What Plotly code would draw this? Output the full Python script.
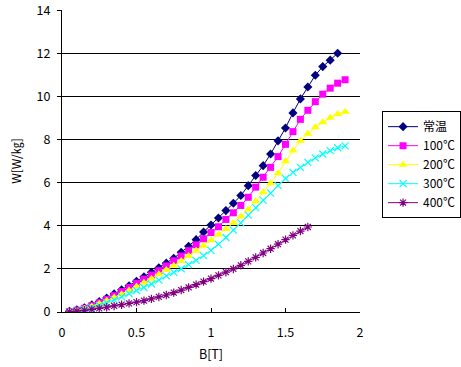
import plotly.graph_objects as go

B_room = [round(0.05 * i, 2) for i in range(1, 38)]
W_room = [0.03, 0.1, 0.2, 0.33, 0.48, 0.65, 0.84, 1.03, 1.22, 1.43, 1.64, 1.85, 2.05, 2.27, 2.5,
          2.77, 3.05, 3.36, 3.72, 4.04, 4.37, 4.71, 5.05, 5.41, 5.87, 6.34, 6.8, 7.34, 7.95, 8.55,
          9.25, 9.9, 10.45, 11.0, 11.4, 11.7, 12.02]

B_100 = [round(0.05 * i, 2) for i in range(1, 39)]
W_100 = [0.02, 0.08, 0.17, 0.29, 0.43, 0.59, 0.76, 0.95, 1.14, 1.34, 1.53, 1.72, 1.92, 2.14, 2.38,
         2.6, 2.85, 3.12, 3.4, 3.69, 3.96, 4.3, 4.61, 4.95, 5.33, 5.8, 6.26, 6.72, 7.22, 7.79,
         8.38, 8.95, 9.37, 9.77, 10.12, 10.4, 10.63, 10.79]

B_200 = [round(0.05 * i, 2) for i in range(1, 39)]
W_200 = [0.02, 0.07, 0.15, 0.26, 0.38, 0.52, 0.67, 0.83, 1.0, 1.18, 1.36, 1.55, 1.75, 1.95, 2.15,
         2.37, 2.6, 2.84, 3.08, 3.33, 3.6, 3.86, 4.13, 4.44, 4.76, 5.15, 5.56, 5.98, 6.45, 7.0,
         7.5, 7.95, 8.28, 8.58, 8.82, 9.02, 9.2, 9.3]

B_300 = [round(0.05 * i, 2) for i in range(1, 39)]
W_300 = [0.01, 0.05, 0.12, 0.2, 0.31, 0.43, 0.56, 0.7, 0.85, 1.0, 1.14, 1.3, 1.48, 1.68, 1.84,
         2.0, 2.2, 2.4, 2.62, 2.86, 3.14, 3.46, 3.8, 4.14, 4.5, 4.85, 5.2, 5.52, 5.88, 6.2,
         6.49, 6.72, 6.95, 7.16, 7.34, 7.5, 7.63, 7.72]

B_400 = [round(0.05 * i, 2) for i in range(1, 34)]
W_400 = [0.01, 0.04, 0.08, 0.12, 0.17, 0.22, 0.28, 0.34, 0.4, 0.46, 0.53, 0.61, 0.7, 0.79, 0.9,
         1.02, 1.14, 1.27, 1.41, 1.55, 1.7, 1.85, 2.0, 2.17, 2.35, 2.54, 2.74, 2.94, 3.15, 3.36,
         3.56, 3.76, 3.95]

x_ticks = [0, 0.5, 1, 1.5, 2]
x_tick_labels = ["0", "0.5", "1", "1.5", "2"]
y_ticks = [0, 2, 4, 6, 8, 10, 12, 14]

series_names = ["常温", "100℃", "200℃", "300℃", "400℃"]
colors = ["#000080", "#FF00FF", "#FFFF00", "#00FFFF", "#800080"]

FONT = "Noto Sans CJK JP, Noto Sans, sans-serif"

fig = go.Figure()
fig.add_trace(go.Scatter(x=B_room, y=W_room, name=series_names[0], mode="lines+markers",
                         line=dict(color=colors[0], width=1),
                         marker=dict(symbol="diamond", size=7, color=colors[0])))
fig.add_trace(go.Scatter(x=B_100, y=W_100, name=series_names[1], mode="lines+markers",
                         line=dict(color=colors[1], width=1),
                         marker=dict(symbol="square", size=7, color=colors[1])))
fig.add_trace(go.Scatter(x=B_200, y=W_200, name=series_names[2], mode="lines+markers",
                         line=dict(color=colors[2], width=1),
                         marker=dict(symbol="triangle-up", size=8, color=colors[2])))
fig.add_trace(go.Scatter(x=B_300, y=W_300, name=series_names[3], mode="lines+markers",
                         line=dict(color=colors[3], width=1),
                         marker=dict(symbol="x-thin", size=7, color=colors[3],
                                     line=dict(color=colors[3], width=1.2))))
fig.add_trace(go.Scatter(x=B_400, y=W_400, name=series_names[4], mode="lines+markers",
                         line=dict(color=colors[4], width=1),
                         marker=dict(symbol="asterisk", size=7, color=colors[4],
                                     line=dict(color=colors[4], width=1.2))))

fig.update_layout(
    width=461, height=367,
    margin=dict(l=62, r=101, t=10, b=55, autoexpand=False),
    paper_bgcolor="white", plot_bgcolor="white",
    font=dict(family=FONT, size=12, color="black"),
    showlegend=True,
    legend=dict(x=1.074, y=0.665, xanchor="left", yanchor="top",
                bordercolor="black", borderwidth=1, bgcolor="white",
                font=dict(family=FONT, size=12, color="black"),
                tracegroupgap=0, itemwidth=30),
    xaxis=dict(range=[0, 2], tickvals=x_ticks, ticktext=x_tick_labels, automargin=False,
               showgrid=False, zeroline=False, showline=True, linecolor="black", linewidth=1,
               ticks="inside", ticklen=4, tickcolor="black", ticklabelstandoff=9,
               tickfont=dict(size=12.5),
               title=dict(text="B[T]", font=dict(family=FONT, size=12.5), standoff=10)),
    yaxis=dict(range=[0, 14.03], tickvals=y_ticks, automargin=False,
               showgrid=True, gridcolor="black", gridwidth=1, zeroline=False,
               showline=True, linecolor="black", linewidth=1,
               ticks="outside", ticklen=4, tickcolor="black", ticklabelstandoff=4,
               tickfont=dict(size=12.5),
               title=dict(text="W[W/㎏]", font=dict(family=FONT, size=12), standoff=12)),
)

fig.write_html("out.html", config={"displayModeBar": False},
               post_script="document.body.style.margin='0';")
